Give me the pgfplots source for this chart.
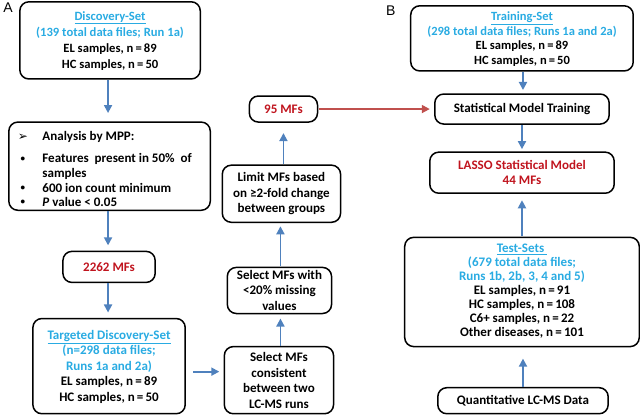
\documentclass[border=0pt]{standalone}
\usepackage{pgfplots}
\pgfplotsset{compat=1.18}
\usetikzlibrary{arrows.meta}
\usepackage{fontspec}
\setmainfont{Carlito}
\newfontfamily\symfont{DejaVu Sans}
\newfontfamily\labfont{Liberation Sans}

\definecolor{ttl}{RGB}{41,171,226}
\definecolor{mf}{RGB}{192,20,30}
\definecolor{arb}{RGB}{79,129,189}
\definecolor{arr}{RGB}{192,80,77}

\newcommand{\eq}{\thinspace=\thinspace}

\begin{document}
\begin{tikzpicture}
\begin{axis}[
    width=640pt, height=417pt, scale only axis,
    xmin=0, xmax=640, ymin=0, ymax=417,
    y dir=reverse, hide axis, clip=false,
]
% boxes
\tikzset{bx/.style={draw, line width=1.5pt, rounded corners=9pt},
         tx/.style={align=center, font=\fontsize{13}{16.5}\selectfont\bfseries},
         ba/.style={arb, line width=1.8pt, -{Triangle[width=8pt,length=8pt]}},
         ra/.style={arr, line width=1.8pt, -{Triangle[width=8pt,length=8pt]}}}

\node[anchor=north west, font=\labfont\fontsize{14}{14}\selectfont] at (axis cs:0,1) {A};
\node[anchor=north west, font=\labfont\fontsize{14}{14}\selectfont] at (axis cs:382,4) {B};

% panel A
\draw[bx] (axis cs:20,3) rectangle (axis cs:200,80);
\node[tx, font=\fontsize{12.6}{16}\selectfont\bfseries] at (axis cs:110,42) {\textcolor{ttl}{\underline{Discovery-Set}}\\
  \textcolor{ttl}{(139 total data files; Run 1a)}\\
  EL samples, n\eq 89\\ HC samples, n\eq 50};

\draw[bx] (axis cs:9,123) rectangle (axis cs:210,211);
\node[anchor=center, font=\symfont\fontsize{12}{12}\selectfont] at (axis cs:23,138) {➢};
\node[anchor=center, font=\fontsize{9}{9}\selectfont\bfseries] at (axis cs:23,160) {•};
\node[anchor=center, font=\fontsize{9}{9}\selectfont\bfseries] at (axis cs:23,189) {•};
\node[anchor=center, font=\fontsize{9}{9}\selectfont\bfseries] at (axis cs:23,203) {•};
\node[anchor=west, font=\fontsize{13}{13}\selectfont\bfseries] at (axis cs:39,138) {Analysis by MPP:};
\node[anchor=west, font=\fontsize{13}{13}\selectfont\bfseries] at (axis cs:39,160) {Features\ \ present in 50\%\ \ of};
\node[anchor=west, font=\fontsize{13}{13}\selectfont\bfseries] at (axis cs:39,175) {samples};
\node[anchor=west, font=\fontsize{13}{13}\selectfont\bfseries] at (axis cs:39,189) {600 ion count minimum};
\node[anchor=west, font=\fontsize{13}{13}\selectfont\bfseries] at (axis cs:39,203) {\textit{P} value < 0.05};

\draw[bx] (axis cs:63,252) rectangle (axis cs:155,283);
\node[tx, text=mf] at (axis cs:109,267.5) {2262 MFs};

\draw[bx] (axis cs:33,319) rectangle (axis cs:185,414);
\node[tx, font=\fontsize{13}{15.5}\selectfont\bfseries] at (axis cs:109,367) {\textcolor{ttl}{\underline{Targeted Discovery-Set}}\\
  \textcolor{ttl}{(n=298 data files;}\\ \textcolor{ttl}{Runs 1a and 2a)}\\
  EL samples, n\eq 89\\ HC samples, n\eq 50};

\draw[bx] (axis cs:224,347) rectangle (axis cs:333,414);
\node[tx, font=\fontsize{13}{15.5}\selectfont\bfseries] at (axis cs:278.5,381) {Select MFs\\ consistent\\ between two\\ LC-MS runs};

\draw[bx] (axis cs:227,268) rectangle (axis cs:331,314);
\node[tx, font=\fontsize{13}{15}\selectfont\bfseries] at (axis cs:279,291) {Select MFs with\\ <20\% missing\\ values};

\draw[bx] (axis cs:222,166) rectangle (axis cs:340,223);
\node[tx, font=\fontsize{13}{15.5}\selectfont\bfseries] at (axis cs:281,194.5) {Limit MFs based\\ on ≥2-fold change\\ between groups};

\draw[bx] (axis cs:249,97) rectangle (axis cs:317,123);
\node[tx, text=mf] at (axis cs:283,110) {95 MFs};

% panel B
\draw[bx] (axis cs:410,7) rectangle (axis cs:632,72);
\node[tx, font=\fontsize{12.5}{14.5}\selectfont\bfseries] at (axis cs:521,40) {\textcolor{ttl}{\underline{Training-Set}}\\
  \textcolor{ttl}{(298 total data files; Runs 1a and 2a)}\\
  EL samples, n\eq 89\\ HC samples, n\eq 50};

\draw[bx] (axis cs:434,95) rectangle (axis cs:608,125);
\node[tx] at (axis cs:521,110) {Statistical Model Training};

\draw[bx] (axis cs:429,153) rectangle (axis cs:613,194);
\node[tx, text=mf, font=\fontsize{13}{15}\selectfont\bfseries] at (axis cs:521,173.5) {LASSO Statistical Model\\ 44 MFs};

\draw[bx] (axis cs:404,238) rectangle (axis cs:638,347);
\node[tx, font=\fontsize{13}{14}\selectfont\bfseries] at (axis cs:521,292) {\textcolor{ttl}{\underline{Test-Sets\ }}\\
  \textcolor{ttl}{(679 total data files;}\\ \textcolor{ttl}{Runs 1b, 2b, 3, 4 and 5)}\\
  EL samples, n\eq 91\\ HC samples, n\eq 108\\ C6+ samples, n\eq 22\\ Other diseases, n\eq 101};

\draw[bx] (axis cs:437,388) rectangle (axis cs:607,414);
\node[tx] at (axis cs:522,401) {Quantitative LC-MS Data};

% arrows
\draw[ba] (axis cs:108,81) -- (axis cs:108,114);
\draw[ba] (axis cs:108,212) -- (axis cs:108,246);
\draw[ba] (axis cs:108,284) -- (axis cs:108,313);
\draw[ba] (axis cs:193,372) -- (axis cs:219,372);
\draw[ba] (axis cs:280,346) -- (axis cs:280,319);
\draw[ba] (axis cs:280,267) -- (axis cs:280,227);
\draw[ba] (axis cs:283,165) -- (axis cs:283,134);
\draw[ra] (axis cs:318,110) -- (axis cs:429,110);
\draw[ba] (axis cs:522,73) -- (axis cs:522,91);
\draw[ba] (axis cs:521,126) -- (axis cs:521,150);
\draw[ba] (axis cs:521,237) -- (axis cs:521,201);
\draw[ba] (axis cs:522,387) -- (axis cs:522,359);
\end{axis}
\end{tikzpicture}
\end{document}
